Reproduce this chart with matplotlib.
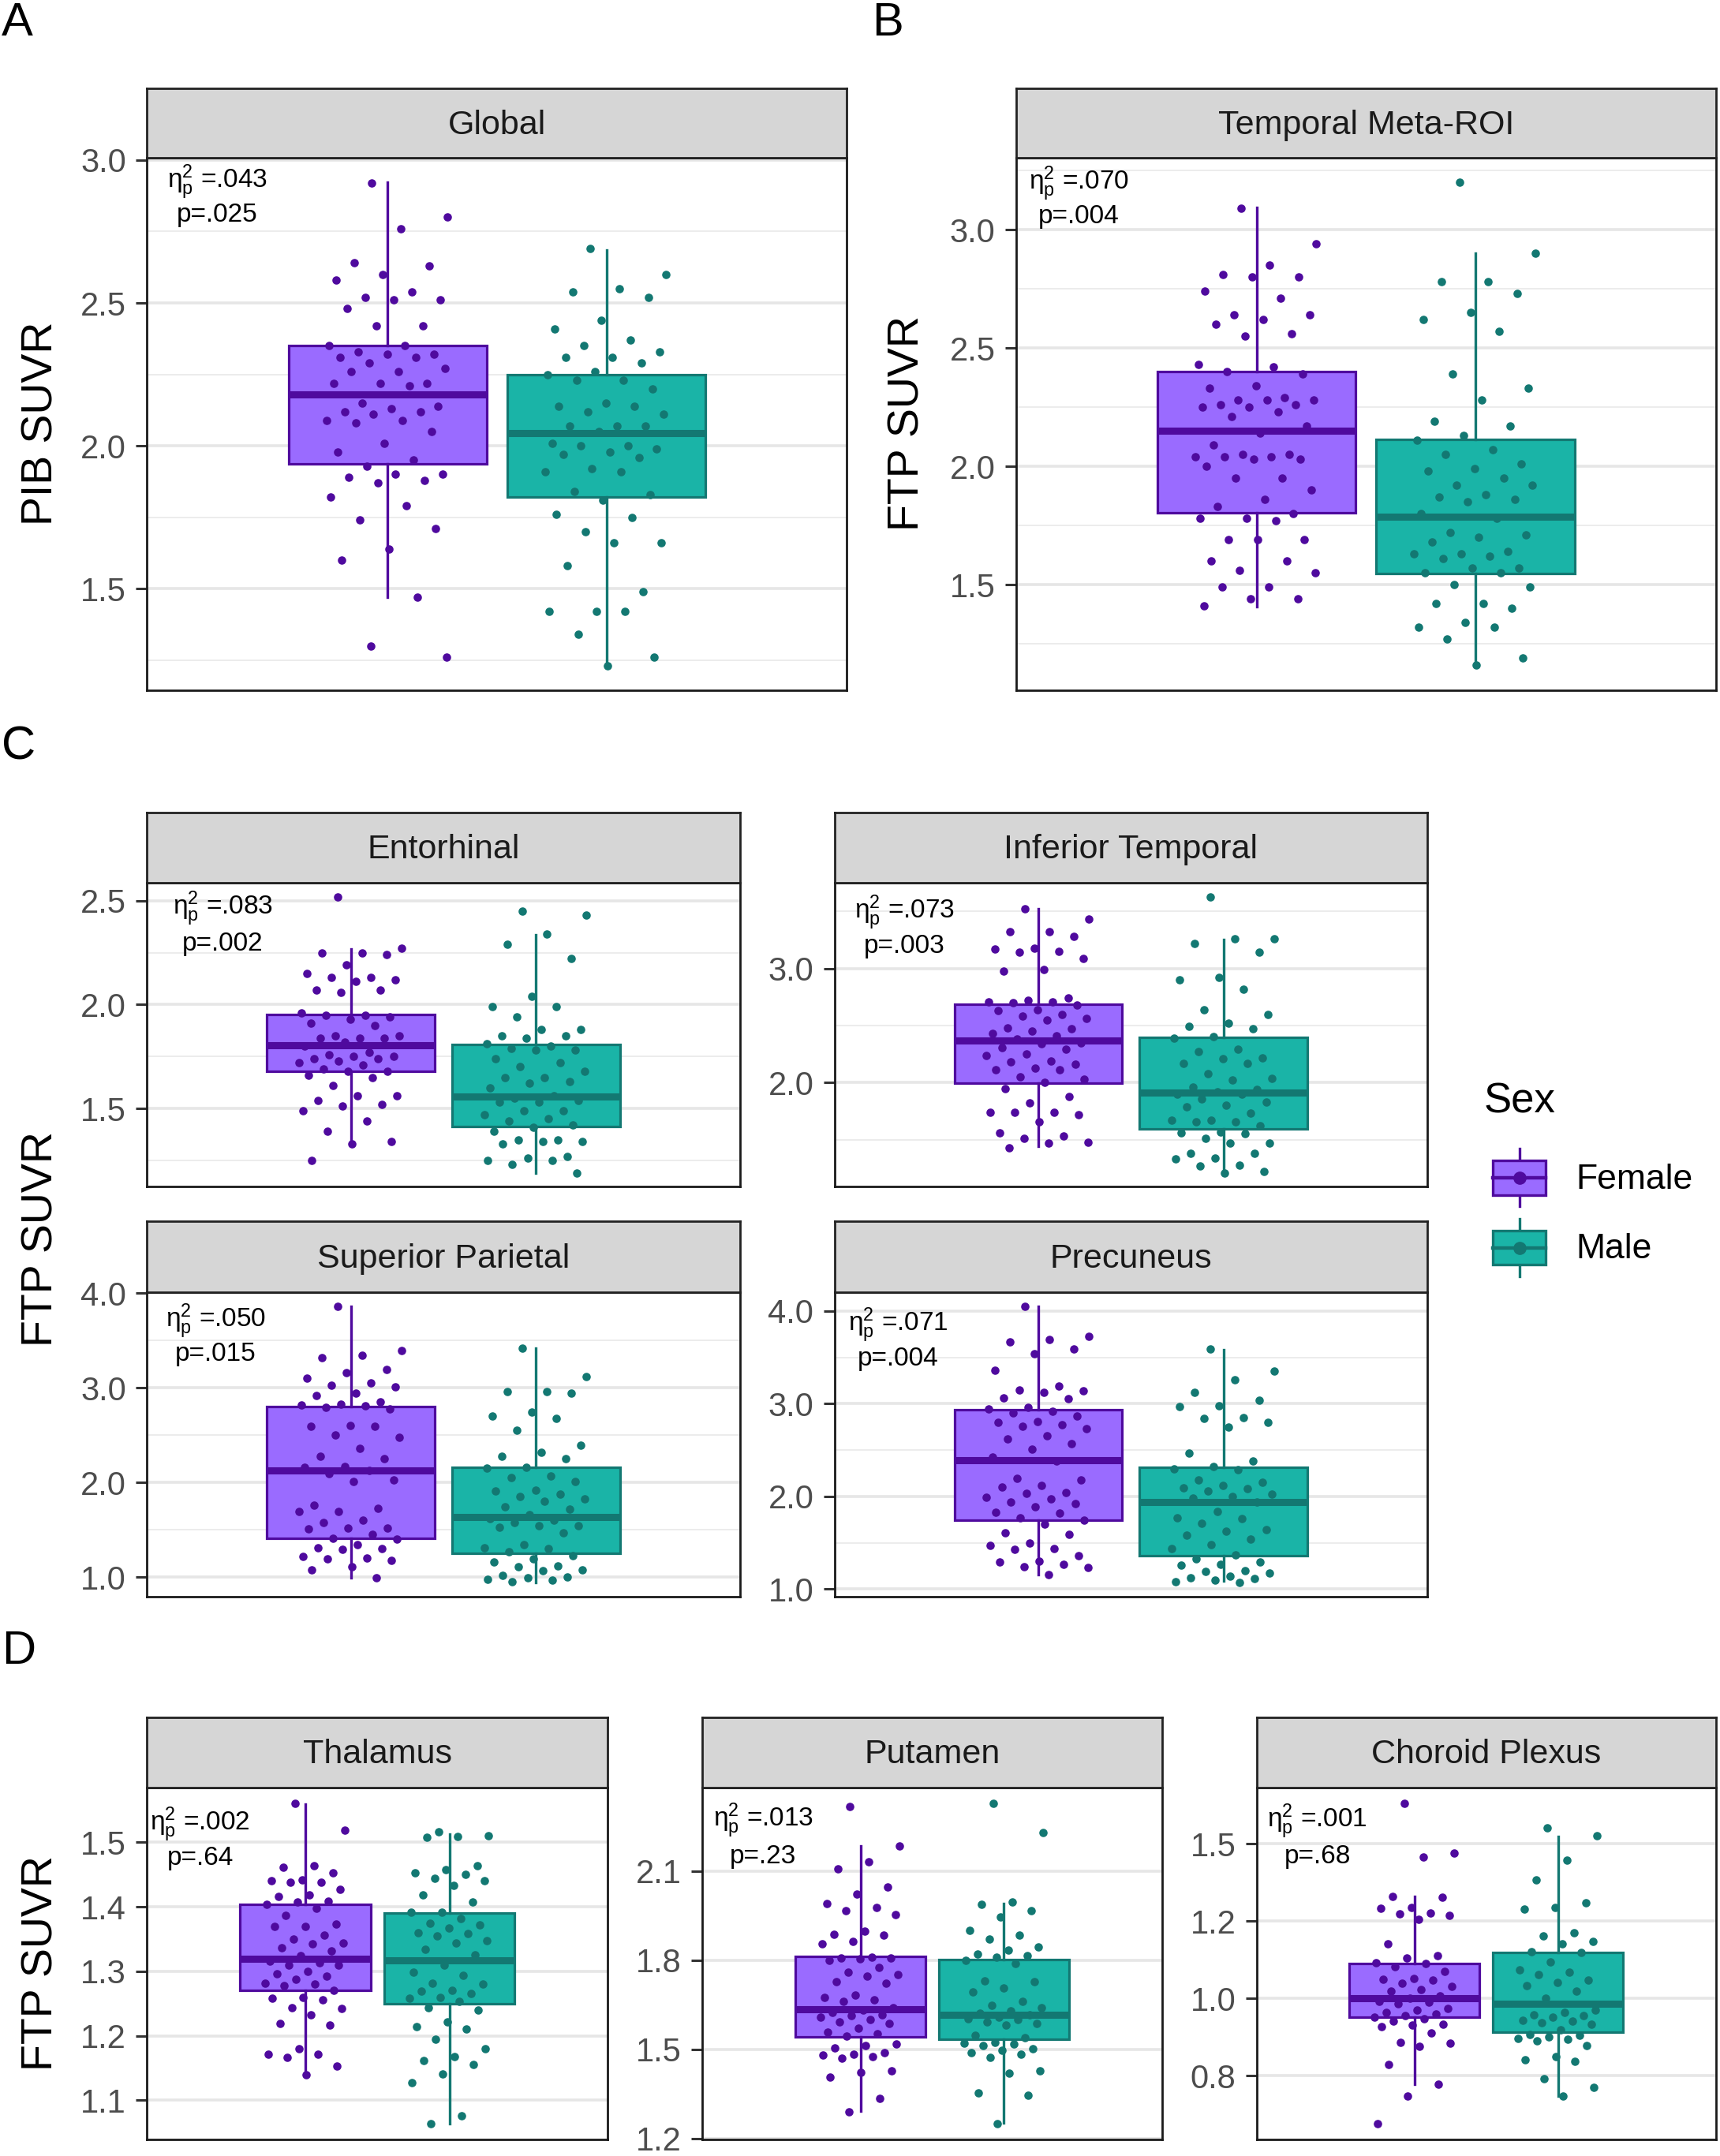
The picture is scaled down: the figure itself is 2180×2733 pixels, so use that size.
import numpy as np
import matplotlib
matplotlib.use("Agg")
import matplotlib.pyplot as plt
from matplotlib.patches import Patch, Rectangle
from matplotlib.lines import Line2D
from matplotlib.legend_handler import HandlerBase

plt.rcParams["font.family"] = ["Liberation Sans", "DejaVu Sans"]
plt.rcParams["mathtext.fontset"] = "custom"
plt.rcParams["mathtext.rm"] = "Liberation Sans"
plt.rcParams["mathtext.it"] = "Liberation Sans"
plt.rcParams["mathtext.default"] = "regular"

# colours
F_FILL, F_EDGE = "#9A6BFF", "#4F0A9E"
M_FILL, M_EDGE = "#1AB4A7", "#137872"

# ---- data ----
# box stats: [whisker low, q1, median, q3, whisker high]
global_f = [2.92, 2.80, 2.76, 2.64, 2.63, 2.60, 2.58, 2.54, 2.52, 2.51, 2.51, 2.48, 2.42, 2.42, 2.35, 2.35, 2.33, 2.32, 2.32,
            2.31, 2.31, 2.29, 2.27, 2.26, 2.26, 2.22, 2.22, 2.22, 2.21, 2.15, 2.14, 2.13, 2.12, 2.12, 2.11, 2.09, 2.09, 2.08,
            2.05, 2.01, 1.98, 1.95, 1.93, 1.90, 1.90, 1.89, 1.88, 1.87, 1.82, 1.79, 1.74, 1.71, 1.64, 1.60, 1.47, 1.30, 1.26]
global_m = [2.69, 2.60, 2.55, 2.54, 2.52, 2.44, 2.41, 2.37, 2.35, 2.33, 2.31, 2.31, 2.29, 2.26, 2.25, 2.23, 2.23, 2.20, 2.15,
            2.14, 2.14, 2.12, 2.11, 2.07, 2.07, 2.07, 2.05, 2.01, 2.00, 2.00, 1.99, 1.98, 1.97, 1.96, 1.92, 1.91, 1.91, 1.84,
            1.83, 1.81, 1.76, 1.75, 1.70, 1.66, 1.66, 1.58, 1.49, 1.42, 1.42, 1.42, 1.34, 1.26, 1.23]
global_box_f = [1.470, 1.937, 2.181, 2.351, 2.922]
global_box_m = [1.230, 1.822, 2.044, 2.249, 2.685]

meta_f = [3.09, 2.94, 2.85, 2.81, 2.80, 2.80, 2.74, 2.71, 2.64, 2.64, 2.62, 2.60, 2.56, 2.55, 2.43, 2.42, 2.40, 2.39, 2.34,
          2.33, 2.29, 2.28, 2.28, 2.28, 2.26, 2.26, 2.25, 2.25, 2.23, 2.21, 2.17, 2.14, 2.09, 2.05, 2.05, 2.04, 2.04, 2.04,
          2.03, 2.03, 2.00, 1.95, 1.95, 1.90, 1.86, 1.83, 1.80, 1.78, 1.78, 1.77, 1.69, 1.69, 1.69, 1.60, 1.60, 1.56, 1.55,
          1.49, 1.49, 1.44, 1.44, 1.41]
meta_m = [3.20, 2.90, 2.78, 2.78, 2.73, 2.65, 2.62, 2.57, 2.39, 2.33, 2.28, 2.19, 2.17, 2.13, 2.11, 2.07, 2.05, 2.01, 1.99,
          1.98, 1.95, 1.92, 1.92, 1.88, 1.87, 1.86, 1.85, 1.80, 1.78, 1.72, 1.71, 1.70, 1.68, 1.64, 1.63, 1.63, 1.62, 1.61,
          1.57, 1.57, 1.55, 1.55, 1.50, 1.49, 1.42, 1.42, 1.40, 1.34, 1.32, 1.32, 1.27, 1.19, 1.16]
meta_box_f = [1.407, 1.803, 2.152, 2.401, 3.093]
meta_box_m = [1.156, 1.548, 1.788, 2.114, 2.901]

ent_f = [2.52, 2.27, 2.25, 2.25, 2.24, 2.19, 2.15, 2.13, 2.13, 2.12, 2.11, 2.07, 2.07, 2.06, 1.96, 1.95, 1.95, 1.94, 1.93,
         1.91, 1.90, 1.85, 1.85, 1.84, 1.84, 1.84, 1.82, 1.80, 1.77, 1.76, 1.75, 1.75, 1.74, 1.74, 1.73, 1.72, 1.71, 1.69,
         1.68, 1.68, 1.66, 1.65, 1.61, 1.56, 1.56, 1.54, 1.52, 1.51, 1.49, 1.44, 1.39, 1.34, 1.33, 1.25]
ent_m = [2.45, 2.43, 2.34, 2.29, 2.22, 2.04, 1.99, 1.99, 1.94, 1.88, 1.88, 1.85, 1.85, 1.84, 1.81, 1.80, 1.79, 1.78, 1.78,
         1.74, 1.72, 1.70, 1.68, 1.65, 1.65, 1.63, 1.62, 1.60, 1.56, 1.55, 1.54, 1.53, 1.53, 1.49, 1.49, 1.47, 1.45, 1.44,
         1.42, 1.41, 1.39, 1.35, 1.35, 1.34, 1.34, 1.33, 1.27, 1.26, 1.25, 1.25, 1.23, 1.19]
ent_box_f = [1.325, 1.677, 1.804, 1.953, 2.268]
ent_box_m = [1.190, 1.411, 1.559, 1.808, 2.335]

it_f = [3.52, 3.43, 3.32, 3.32, 3.28, 3.18, 3.17, 3.15, 3.14, 3.09, 2.99, 2.98, 2.74, 2.72, 2.71, 2.71, 2.70, 2.68, 2.64,
        2.63, 2.60, 2.58, 2.56, 2.55, 2.48, 2.47, 2.45, 2.43, 2.41, 2.38, 2.35, 2.34, 2.31, 2.29, 2.25, 2.24, 2.19, 2.18,
        2.16, 2.13, 2.11, 2.11, 2.05, 2.03, 2.00, 1.95, 1.88, 1.82, 1.74, 1.74, 1.74, 1.72, 1.66, 1.56, 1.53, 1.51, 1.48,
        1.47, 1.43]
it_m = [3.63, 3.26, 3.26, 3.22, 3.14, 2.92, 2.90, 2.82, 2.64, 2.60, 2.52, 2.49, 2.47, 2.40, 2.39, 2.29, 2.27, 2.22, 2.21,
        2.17, 2.17, 2.08, 2.04, 2.02, 1.96, 1.94, 1.92, 1.90, 1.90, 1.86, 1.83, 1.80, 1.79, 1.73, 1.67, 1.67, 1.66, 1.66,
        1.62, 1.57, 1.56, 1.55, 1.51, 1.47, 1.47, 1.38, 1.38, 1.34, 1.33, 1.28, 1.27, 1.22, 1.21]
it_box_f = [1.445, 1.995, 2.367, 2.690, 3.525]
it_box_m = [1.216, 1.594, 1.915, 2.397, 3.252]

sp_f = [3.86, 3.39, 3.34, 3.32, 3.19, 3.16, 3.10, 3.05, 3.03, 3.01, 2.94, 2.92, 2.85, 2.83, 2.82, 2.81, 2.79, 2.78, 2.60,
        2.59, 2.59, 2.50, 2.48, 2.36, 2.28, 2.25, 2.17, 2.16, 2.13, 2.09, 2.03, 2.01, 1.76, 1.73, 1.69, 1.69, 1.60, 1.58,
        1.52, 1.52, 1.51, 1.45, 1.41, 1.40, 1.34, 1.31, 1.30, 1.29, 1.22, 1.20, 1.19, 1.18, 1.11, 1.08, 0.99]
sp_m = [3.42, 3.12, 2.96, 2.96, 2.94, 2.74, 2.70, 2.68, 2.55, 2.39, 2.32, 2.28, 2.25, 2.16, 2.15, 2.07, 2.05, 2.01, 1.92,
        1.91, 1.88, 1.85, 1.83, 1.80, 1.74, 1.72, 1.66, 1.62, 1.60, 1.58, 1.54, 1.54, 1.53, 1.47, 1.34, 1.31, 1.30, 1.27,
        1.23, 1.19, 1.16, 1.12, 1.11, 1.08, 1.07, 1.02, 1.00, 0.99, 0.98, 0.97, 0.95]
sp_box_f = [0.992, 1.406, 2.122, 2.798, 3.856]
sp_box_m = [0.942, 1.251, 1.638, 2.157, 3.414]

prec_f = [4.05, 3.73, 3.69, 3.67, 3.59, 3.54, 3.36, 3.19, 3.15, 3.14, 3.12, 3.06, 3.05, 2.96, 2.94, 2.92, 2.90, 2.87, 2.81,
          2.80, 2.77, 2.76, 2.73, 2.65, 2.62, 2.57, 2.51, 2.42, 2.38, 2.19, 2.18, 2.12, 2.10, 2.04, 2.03, 1.99, 1.97, 1.94,
          1.92, 1.89, 1.83, 1.82, 1.77, 1.74, 1.70, 1.61, 1.59, 1.50, 1.47, 1.44, 1.43, 1.36, 1.30, 1.29, 1.27, 1.24, 1.23,
          1.16]
prec_m = [3.59, 3.35, 3.26, 3.12, 3.04, 2.98, 2.97, 2.85, 2.84, 2.80, 2.75, 2.47, 2.38, 2.32, 2.30, 2.29, 2.18, 2.15, 2.12,
          2.09, 2.08, 2.06, 2.02, 2.00, 1.98, 1.94, 1.84, 1.77, 1.76, 1.71, 1.64, 1.62, 1.58, 1.54, 1.48, 1.44, 1.37, 1.33,
          1.29, 1.27, 1.26, 1.20, 1.19, 1.17, 1.14, 1.12, 1.11, 1.10, 1.08, 1.07]
prec_box_f = [1.158, 1.746, 2.387, 2.938, 4.048]
prec_box_m = [1.088, 1.356, 1.941, 2.316, 3.579]

thal_f = [1.560, 1.519, 1.464, 1.461, 1.453, 1.442, 1.440, 1.438, 1.438, 1.427, 1.418, 1.416, 1.409, 1.407, 1.404, 1.398,
          1.387, 1.373, 1.370, 1.369, 1.356, 1.350, 1.344, 1.343, 1.336, 1.332, 1.324, 1.316, 1.313, 1.310, 1.309, 1.300,
          1.296, 1.293, 1.288, 1.282, 1.280, 1.278, 1.271, 1.260, 1.258, 1.256, 1.244, 1.242, 1.233, 1.219, 1.216, 1.180,
          1.171, 1.171, 1.166, 1.153, 1.140]
thal_m = [1.516, 1.510, 1.509, 1.508, 1.464, 1.458, 1.453, 1.450, 1.444, 1.440, 1.433, 1.418, 1.407, 1.391, 1.391, 1.382,
          1.374, 1.372, 1.367, 1.360, 1.358, 1.355, 1.347, 1.344, 1.334, 1.325, 1.309, 1.299, 1.294, 1.282, 1.280, 1.271,
          1.269, 1.266, 1.259, 1.258, 1.253, 1.244, 1.240, 1.221, 1.214, 1.210, 1.195, 1.180, 1.168, 1.162, 1.155, 1.141,
          1.127, 1.076, 1.064]
thal_box_f = [1.142, 1.270, 1.319, 1.404, 1.559]
thal_box_m = [1.064, 1.250, 1.317, 1.390, 1.513]

put_f = [2.318, 2.185, 2.131, 2.106, 2.047, 2.021, 1.991, 1.976, 1.967, 1.954, 1.896, 1.887, 1.884, 1.864, 1.856, 1.811,
         1.808, 1.806, 1.805, 1.800, 1.776, 1.759, 1.750, 1.745, 1.728, 1.723, 1.683, 1.674, 1.665, 1.661, 1.639, 1.632,
         1.623, 1.616, 1.612, 1.608, 1.599, 1.593, 1.587, 1.572, 1.557, 1.552, 1.543, 1.517, 1.511, 1.504, 1.489, 1.484,
         1.480, 1.475, 1.471, 1.427, 1.422, 1.405, 1.334, 1.290]
put_m = [2.327, 2.230, 1.996, 1.987, 1.967, 1.946, 1.899, 1.884, 1.870, 1.843, 1.833, 1.820, 1.816, 1.811, 1.798, 1.789,
         1.731, 1.727, 1.705, 1.693, 1.661, 1.649, 1.639, 1.628, 1.621, 1.616, 1.609, 1.603, 1.599, 1.593, 1.587, 1.581,
         1.546, 1.540, 1.524, 1.519, 1.517, 1.511, 1.502, 1.497, 1.489, 1.484, 1.473, 1.427, 1.420, 1.352, 1.346, 1.250]
put_box_f = [1.292, 1.541, 1.634, 1.812, 2.183]
put_box_m = [1.252, 1.534, 1.616, 1.802, 1.991]

chor_f = [1.504, 1.375, 1.365, 1.264, 1.261, 1.235, 1.232, 1.220, 1.219, 1.215, 1.204, 1.141, 1.110, 1.104, 1.093, 1.089,
          1.081, 1.070, 1.052, 1.050, 1.048, 1.039, 1.030, 1.022, 1.019, 1.007, 1.000, 0.993, 0.989, 0.985, 0.974, 0.970,
          0.963, 0.959, 0.956, 0.952, 0.948, 0.941, 0.933, 0.930, 0.927, 0.911, 0.885, 0.883, 0.876, 0.828, 0.778, 0.748,
          0.676]
chor_m = [1.441, 1.421, 1.357, 1.306, 1.248, 1.235, 1.230, 1.170, 1.161, 1.148, 1.142, 1.120, 1.119, 1.094, 1.074, 1.067,
          1.061, 1.048, 1.041, 1.033, 1.019, 1.000, 0.970, 0.963, 0.957, 0.956, 0.952, 0.944, 0.941, 0.937, 0.933, 0.919,
          0.907, 0.904, 0.900, 0.896, 0.893, 0.889, 0.878, 0.850, 0.841, 0.837, 0.791, 0.769, 0.747]
chor_box_f = [0.778, 0.952, 1.000, 1.089, 1.263]
chor_box_m = [0.747, 0.913, 0.985, 1.119, 1.419]

titles = ["Global", "Temporal Meta-ROI", "Entorhinal", "Inferior Temporal", "Superior Parietal",
          "Precuneus", "Thalamus", "Putamen", "Choroid Plexus"]
eta_vals = [".043", ".070", ".083", ".073", ".050", ".071", ".002", ".013", ".001"]
p_vals = [".025", ".004", ".002", ".003", ".015", ".004", ".64", ".23", ".68"]

ticks_global = [1.5, 2.0, 2.5, 3.0]
ticks_ent = [1.5, 2.0, 2.5]
ticks_it = [2.0, 3.0]
ticks_cortex = [1.0, 2.0, 3.0, 4.0]
ticks_thal = [1.1, 1.2, 1.3, 1.4, 1.5]
ticks_put = [1.2, 1.5, 1.8, 2.1]
ticks_chor = [0.8, 1.0, 1.2, 1.4]
tick_labels_chor = ["0.8", "1.0", "1.2", "1.5"]

# ---- layout (in units of the 1251x1568 preview) ----
PW, PH = 1251.0, 1568.0
fig = plt.figure(figsize=(21.8, 27.33), dpi=100)


def add_ax(x0, x1, y0, y1):
    return fig.add_axes([x0 / PW, 1 - y1 / PH, (x1 - x0) / PW, (y1 - y0) / PH])


def jitter(n, w=0.105):
    return ((np.arange(n) * 0.618034 + 0.37) % 1.0 - 0.5) * 2 * w


def stats(b):
    return dict(whislo=b[0], q1=b[1], med=b[2], q3=b[3], whishi=b[4])


def panel(frame, title, fv, mv, fb, mb, eta, p, major, minor, ann, labels=None):
    x0, x1, ys, yt, yb = frame
    ax = add_ax(x0, x1, yt, yb)
    sax = add_ax(x0, x1, ys, yt)
    sax.set_facecolor("#D6D6D6")
    sax.set_xticks([])
    sax.set_yticks([])
    for s in sax.spines.values():
        s.set_color("#222222")
        s.set_linewidth(2.0)
    sax.text(0.5, 0.47, title, ha="center", va="center", fontsize=31, color="#1A1A1A",
             transform=sax.transAxes)

    pos = [-0.1875, 0.1875]
    res = ax.bxp([stats(fb), stats(mb)], positions=pos, widths=0.34, patch_artist=True,
                 showfliers=False, showcaps=False, manage_ticks=False)
    for i, (fc, ec) in enumerate([(F_FILL, F_EDGE), (M_FILL, M_EDGE)]):
        res["boxes"][i].set_facecolor(fc)
        res["boxes"][i].set_edgecolor(ec)
        res["boxes"][i].set_linewidth(2.3)
        res["medians"][i].set_color(ec)
        res["medians"][i].set_linewidth(6.5)
        res["medians"][i].set_solid_capstyle("butt")
        for w in res["whiskers"][2 * i:2 * i + 2]:
            w.set_color(ec)
            w.set_linewidth(2.4)
    for vals, x, ec in [(fv, pos[0], F_EDGE), (mv, pos[1], M_EDGE)]:
        ax.scatter(x + jitter(len(vals)), vals, s=58, color=ec, linewidths=0, zorder=4)

    allv = list(fv) + list(mv) + list(fb) + list(mb)
    lo, hi = min(allv), max(allv)
    pad = (hi - lo) * 0.05
    ax.set_ylim(lo - pad, hi + pad)
    ax.set_xlim(-0.6, 0.6)
    ax.set_xticks([])
    ax.set_yticks(major)
    ax.set_yticklabels(labels if labels else ["%.1f" % v for v in major])
    if minor:
        ax.set_yticks(minor, minor=True)
        ax.grid(which="minor", axis="y", color="#EBEBEB", lw=1.3)
    ax.grid(which="major", axis="y", color="#E6E6E6", lw=2.6)
    ax.set_axisbelow(True)
    ax.tick_params(axis="y", which="major", labelsize=30, labelcolor="#4D4D4D", length=10,
                   width=2.2, color="#333333", pad=9)
    ax.tick_params(axis="y", which="minor", length=0)
    for s in ax.spines.values():
        s.set_color("#1A1A1A")
        s.set_linewidth(2.0)

    ax.text(ann[0], ann[1], r"$\eta^{2}_{p}$ =" + eta, transform=ax.transAxes, ha="center",
            va="center", fontsize=24)
    ax.text(ann[0], ann[2], "p=" + p, transform=ax.transAxes, ha="center", va="center", fontsize=24)
    return ax


panel((107, 616, 64, 115, 502), titles[0], global_f, global_m, global_box_f, global_box_m,
      eta_vals[0], p_vals[0], ticks_global, [1.25, 1.75, 2.25, 2.75], (0.100, 0.955, 0.893))
panel((739, 1248, 64, 115, 502), titles[1], meta_f, meta_m, meta_box_f, meta_box_m,
      eta_vals[1], p_vals[1], ticks_global, [1.25, 1.75, 2.25, 2.75, 3.25], (0.090, 0.952, 0.890))
panel((107, 538, 591, 642, 863), titles[2], ent_f, ent_m, ent_box_f, ent_box_m,
      eta_vals[2], p_vals[2], ticks_ent, [1.25, 1.75, 2.25], (0.128, 0.915, 0.800))
panel((607, 1038, 591, 642, 863), titles[3], it_f, it_m, it_box_f, it_box_m,
      eta_vals[3], p_vals[3], ticks_it, [1.5, 2.5, 3.5], (0.118, 0.902, 0.791))
panel((107, 538, 888, 940, 1161), titles[4], sp_f, sp_m, sp_box_f, sp_box_m,
      eta_vals[4], p_vals[4], ticks_cortex, [1.5, 2.5, 3.5], (0.116, 0.906, 0.796))
panel((607, 1038, 888, 940, 1161), titles[5], prec_f, prec_m, prec_box_f, prec_box_m,
      eta_vals[5], p_vals[5], ticks_cortex, [1.5, 2.5, 3.5], (0.107, 0.892, 0.782))
panel((107, 442, 1249, 1300, 1556), titles[6], thal_f, thal_m, thal_box_f, thal_box_m,
      eta_vals[6], p_vals[6], ticks_thal, None, (0.115, 0.895, 0.800))
panel((511, 845, 1249, 1300, 1556), titles[7], put_f, put_m, put_box_f, put_box_m,
      eta_vals[7], p_vals[7], ticks_put, None, (0.132, 0.907, 0.804))
panel((914, 1248, 1249, 1300, 1556), titles[8], chor_f, chor_m, chor_box_f, chor_box_m,
      eta_vals[8], p_vals[8], ticks_chor, None, (0.132, 0.903, 0.804), labels=tick_labels_chor)

# axis titles
for x, y, t in [(30, 308, "PIB SUVR"), (660, 308, "FTP SUVR"), (30, 901, "FTP SUVR"), (30, 1428, "FTP SUVR")]:
    fig.text(x / PW, 1 - y / PH, t, rotation=90, ha="center", va="center", fontsize=40)

# panel letters
for x, y, t in [(0, 26, "A"), (633, 26, "B"), (0, 552, "C"), (0, 1210, "D")]:
    fig.text(x / PW + 0.001, 1 - y / PH, t, ha="left", va="baseline", fontsize=43)


class BoxKey(HandlerBase):
    def create_artists(self, legend, orig_handle, xdescent, ydescent, width, height, fontsize, trans):
        fc = orig_handle.get_facecolor()
        ec = orig_handle.get_edgecolor()
        inset = width * 0.15
        x0, y0 = -xdescent + inset, -ydescent
        bw = width - inset
        cx, cy = x0 + bw / 2, y0 + height / 2
        bh = height * 0.6
        whisk = Line2D([cx, cx], [y0, y0 + height], color=ec, lw=2.4, transform=trans)
        box = Rectangle((x0, cy - bh / 2), bw, bh, facecolor=fc, edgecolor=ec, lw=2.4, transform=trans)
        med = Line2D([x0, x0 + bw], [cy, cy], color=ec, lw=3.2, transform=trans)
        dot = Line2D([cx], [cy], marker="o", ms=11, color=ec, lw=0, transform=trans)
        return [whisk, box, med, dot]


handles = [Patch(facecolor=F_FILL, edgecolor=F_EDGE, label="Female"),
           Patch(facecolor=M_FILL, edgecolor=M_EDGE, label="Male")]
leg = fig.legend(handles=handles, handler_map={Patch: BoxKey()}, title="Sex", loc="upper left",
                 bbox_to_anchor=(1079 / PW, 1 - 787 / PH), frameon=False, fontsize=32, title_fontsize=38,
                 alignment="left", handlelength=1.78, handleheight=2.15, handletextpad=0.85,
                 labelspacing=0.35, borderpad=0, borderaxespad=0)
leg._legend_box.sep = 25

fig.savefig("out.png", dpi=100)
